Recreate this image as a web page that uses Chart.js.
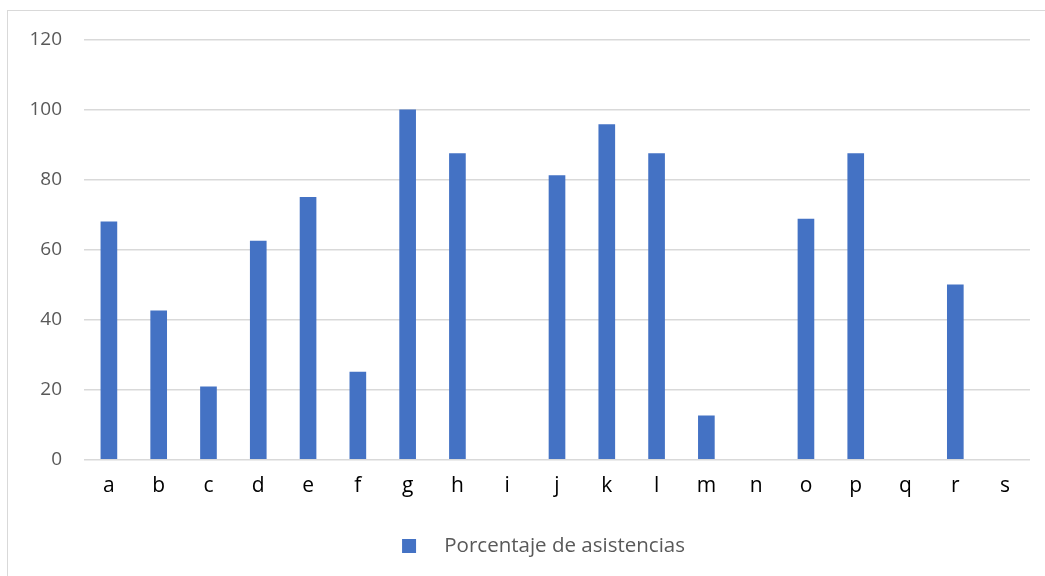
<!DOCTYPE html>
<html>
<head>
<meta charset="utf-8">
<script src="https://cdn.jsdelivr.net/npm/chart.js@4/dist/chart.umd.min.js"></script>
<style>
  html, body { margin: 0; padding: 0; background: #fff; overflow: hidden; }
  #frame { position: absolute; left: 7px; top: 10px; width: 1100px; height: 700px;
           border-left: 1.5px solid #d9d9d9; border-top: 1.5px solid #d9d9d9; }
  #wrap { position: absolute; left: 0; top: 0; width: 1045px; height: 576px; }
</style>
</head>
<body>
<div id="frame"></div>
<div id="wrap"><canvas id="c" width="1045" height="576"></canvas></div>
<script>
const categories = ['a','b','c','d','e','f','g','h','i','j','k','l','m','n','o','p','q','r','s'];
const seriesLabel = 'Porcentaje de asistencias';
const attendance = [68, 42.5, 20.8, 62.5, 75, 25, 100, 87.5, 0, 81.25, 95.8, 87.5, 12.5, 0, 68.75, 87.5, 0, 50, 0];
const yTicks = [0, 20, 40, 60, 80, 100, 120];

const barColor = '#4472C4';
const fontFamily = "'Open Sans', 'Liberation Sans', sans-serif";

// legend marker: transparent lead-in, square, transparent gap before the text
const marker = document.createElement('canvas');
marker.width = 89; marker.height = 14;
const mctx = marker.getContext('2d');
mctx.fillStyle = barColor;
mctx.fillRect(57, 0, 14, 14);

new Chart(document.getElementById('c'), {
  type: 'bar',
  data: {
    labels: categories,
    datasets: [{
      label: seriesLabel,
      data: attendance,
      backgroundColor: (ctx) => (ctx.raw === 0 ? 'rgba(0,0,0,0)' : barColor),
      borderWidth: 0,
      barThickness: 16,
      pointStyle: marker
    }]
  },
  options: {
    responsive: false,
    animation: false,
    layout: { padding: { left: 0, right: 15, top: 40, bottom: 10 } },
    plugins: {
      tooltip: { enabled: false },
      legend: {
        position: 'bottom',
        labels: {
          usePointStyle: true,
          pointStyleWidth: 89,
          boxHeight: 14,
          color: '#595959',
          font: { family: fontFamily, size: 20.5 },
          padding: 10
        }
      }
    },
    scales: {
      x: {
        offset: true,
        grid: { display: false },
        border: { display: false },
        ticks: { color: '#000', font: { family: fontFamily, size: 21 }, padding: 6 },
        afterFit: (s) => { s.height = 66; }
      },
      y: {
        min: 0, max: 120,
        afterBuildTicks: (s) => { s.ticks = yTicks.map(v => ({ value: v })); },
        grid: { color: '#d9d9d9', lineWidth: 1.5, drawTicks: false, tickLength: 0 },
        border: { display: false },
        ticks: { color: '#595959', font: { family: fontFamily, size: 19 }, padding: 22 },
        afterFit: (s) => { s.width = 84; }
      }
    }
  }
});
</script>
</body>
</html>
